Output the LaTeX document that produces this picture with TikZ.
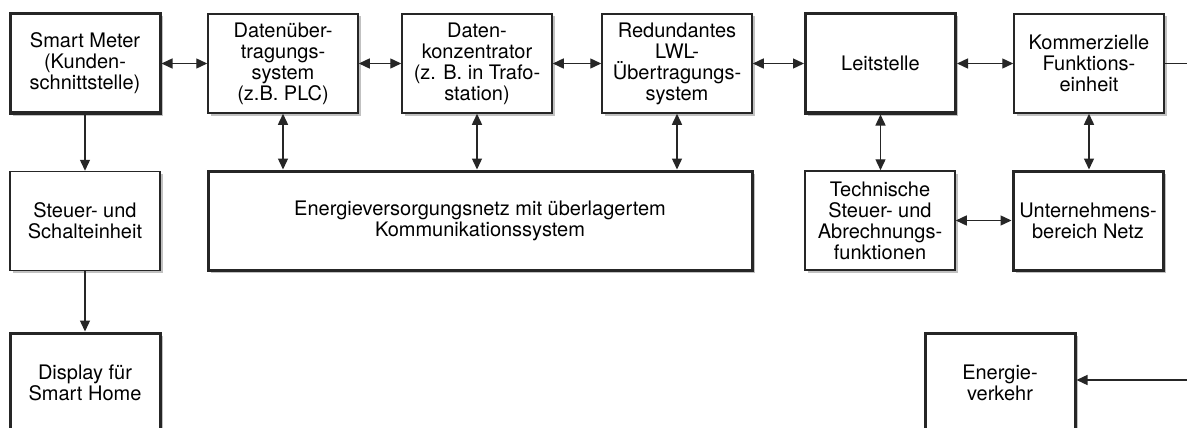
\documentclass[tikz,border=0pt]{standalone}
\usepackage{fontspec}
\setmainfont{TeX Gyre Heros}
\usetikzlibrary{arrows.meta,shadows}
\begin{document}
\begin{tikzpicture}[x=1pt,y=-1pt,
  box/.style={draw=black!85, fill=white, line width=1.5pt, minimum width=150pt, minimum height=99pt,
    inner sep=0pt, align=center, font=\fontsize{20}{21}\selectfont,
    drop shadow={shadow xshift=2.5pt, shadow yshift=-2.5pt, fill=black!40, opacity=0.6}},
  thickbox/.style={box, line width=3pt},
  conn/.style={line width=1.4pt, draw=black!85},
  tip/.tip={Triangle[length=11pt,width=10pt]},
  dbl/.style={conn, tip-tip},
  sgl/.style={conn, -tip}
]
\clip (0,0) rectangle (1187,428);
\fill[white] (0,0) rectangle (1187,428);
% row 1
\node[thickbox] (sm) at (85,63.5) {Smart Meter\\(Kunden-\\schnittstelle)};
\node[box] (due) at (283,63.5) {Datenüber-\\tragungs-\\system\\(z.B. PLC)};
\node[box] (dk) at (477,63.5) {Daten-\\konzentrator\\(z. B. in Trafo-\\station)};
\node[box] (lwl) at (677,63.5) {Redundantes\\LWL-\\Übertragungs-\\system};
\node[thickbox] (leit) at (880.5,63.5) {Leitstelle};
\node[box] (kom) at (1089,63.5) {Kommerzielle\\Funktions-\\einheit};
% row 2
\node[box] (steu) at (85,221) {Steuer- und\\Schalteinheit};
\node[thickbox, minimum width=544pt] (netz) at (480,220.5) {Energieversorgungsnetz mit überlagertem\\Kommunikationssystem};
\node[box] (tech) at (880,220.5) {Technische\\Steuer- und\\Abrechnungs-\\funktionen};
\node[thickbox] (unt) at (1088,220.5) {Unternehmens-\\bereich Netz};
% row 3
\node[thickbox] (disp) at (85,382.5) {Display für\\Smart Home};
\node[thickbox] (ev) at (1000,382.5) {Energie-\\verkehr};
% free ends
\coordinate (re1) at (1187,63.5);
\coordinate (re2) at (1187,380);
% horizontal connectors
\draw[dbl] (sm.east) -- (due.west);
\draw[dbl] (due.east) -- (dk.west);
\draw[dbl] (dk.east) -- (lwl.west);
\draw[dbl] (lwl.east) -- (leit.west);
\draw[dbl] (leit.east) -- (kom.west);
\draw[conn] (kom.east) -- (re1);
\draw[dbl] (tech.east) -- (unt.west);
\draw[sgl] (re2) -- (ev.east |- re2);
% vertical connectors
\draw[sgl] (sm.south) -- (steu.north);
\draw[sgl] (steu.south) -- (disp.north);
\draw[dbl] (due.south) -- (due.south |- netz.north);
\draw[dbl] (dk.south) -- (dk.south |- netz.north);
\draw[dbl] (lwl.south) -- (lwl.south |- netz.north);
\draw[dbl] (leit.south) -- (leit.south |- tech.north);
\draw[dbl] (kom.south) -- (kom.south |- unt.north);
\end{tikzpicture}
\end{document}
